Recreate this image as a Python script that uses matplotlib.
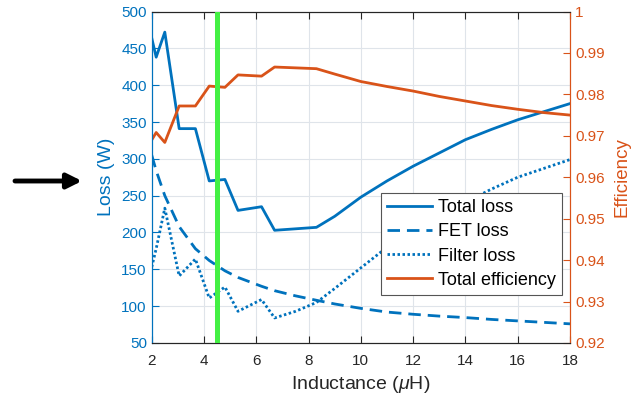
import numpy as np
import matplotlib
matplotlib.use("Agg")
import matplotlib.pyplot as plt

plt.rcParams['font.family'] = ['Liberation Sans', 'DejaVu Sans']
plt.rcParams['mathtext.fontset'] = 'custom'
plt.rcParams['mathtext.it'] = 'Liberation Sans:italic'

# inductance sweep (uH)
inductance = [2.0, 2.17, 2.5, 3.05, 3.67, 4.2, 4.8, 5.3, 6.2, 6.7, 7.5, 8.3,
              9, 10, 11, 12, 13, 14, 15, 16, 17, 18]
total_loss = [464, 438, 472, 341, 341, 270, 272, 230, 235, 203, 205, 207,
              222, 248, 270, 290, 308, 326, 340, 353, 364, 375]
fet_loss = [305, 284, 250, 208, 178, 162, 148, 139, 127, 121, 114, 108,
            103, 97, 92, 89, 86.5, 84.5, 82, 80, 78, 76]
filter_loss = [153, 178, 233, 141, 164, 111, 126, 93, 109, 84, 93, 105,
               124, 152, 180, 201, 221, 241, 259, 275, 287, 299]
total_eff = [0.9690, 0.9708, 0.9684, 0.9772, 0.9772, 0.9820, 0.9817, 0.9847,
             0.9844, 0.9866, 0.9864, 0.9862, 0.9849, 0.9831, 0.9819, 0.9808,
             0.9795, 0.9784, 0.9773, 0.9764, 0.9756, 0.9750]
chosen_L = 4.5

loss_ticks = list(range(50, 501, 50))
eff_ticks = [0.92, 0.93, 0.94, 0.95, 0.96, 0.97, 0.98, 0.99, 1.0]
eff_labels = ['0.92', '0.93', '0.94', '0.95', '0.96', '0.97', '0.98', '0.99', '1']
L_ticks = list(range(2, 19, 2))

blue = '#0072BD'
orange = '#D95319'
dark = '#262626'

fig = plt.figure(figsize=(6.33, 3.98), dpi=100)
ax = fig.add_axes([0.2397, 0.1382, 0.6608, 0.8329])
ax2 = ax.twinx()

h1, = ax.plot(inductance, total_loss, color=blue, lw=2, label='Total loss')
h2, = ax.plot(inductance, fet_loss, color=blue, lw=2, ls=(0, (4.5, 2.5)), label='FET loss')
h3, = ax.plot(inductance, filter_loss, color=blue, lw=2, ls=(0, (0.9, 0.9)), label='Filter loss')
h4, = ax2.plot(inductance, total_eff, color=orange, lw=2, label='Total efficiency')
ax2.axvline(chosen_L, color='#44F044', lw=3.6, zorder=5)

ax.set_xlim(2, 18)
ax.set_ylim(50, 500)
ax2.set_ylim(0.92, 1.0)
ax.set_xticks(L_ticks)
ax.set_yticks(loss_ticks)
ax2.set_yticks(eff_ticks)
ax2.set_yticklabels(eff_labels)

ax.grid(True, color='#dfe4ea', lw=0.8)
ax.set_axisbelow(True)

ax.tick_params(axis='x', direction='in', top=True, length=5, colors=dark,
               labelsize=11, pad=8)
ax.tick_params(axis='y', direction='in', length=5, color=blue, labelcolor=blue,
               labelsize=11, right=False)
ax2.tick_params(axis='y', direction='in', length=5, color=orange, labelcolor=orange,
                labelsize=11)

for a in (ax, ax2):
    a.spines['top'].set_color(dark)
    a.spines['bottom'].set_color(dark)
    a.spines['left'].set_color(blue)
    a.spines['right'].set_color(orange)
    for s in a.spines.values():
        s.set_linewidth(0.8)

ax.set_xlabel(r'Inductance ($\mu$H)', fontsize=14, color=dark, labelpad=4)
ax.set_ylabel('Loss (W)', fontsize=14, color=blue)
ax.yaxis.set_label_coords(-0.088, 0.5)
ax2.set_ylabel('Efficiency', fontsize=13.5, color=orange)
ax2.yaxis.set_label_coords(1.103, 0.5)

leg = ax2.legend(handles=[h1, h2, h3, h4], loc='upper right',
                 bbox_to_anchor=(0.981, 0.453), borderaxespad=0,
                 fontsize=13, fancybox=False, framealpha=1, edgecolor='#555555',
                 handlelength=2.5, handletextpad=0.3, labelspacing=0.4,
                 borderpad=0.35)
leg.get_frame().set_linewidth(0.8)
leg.set_zorder(10)

# black arrow pointing at the loss axis
ax.annotate('', xy=(82, 217), xytext=(15, 217),
            xycoords='figure pixels', textcoords='figure pixels',
            arrowprops=dict(arrowstyle='-|>', color='black', lw=3.5,
                            mutation_scale=22, shrinkA=0, shrinkB=0))

fig.savefig('out.png', dpi=100)
